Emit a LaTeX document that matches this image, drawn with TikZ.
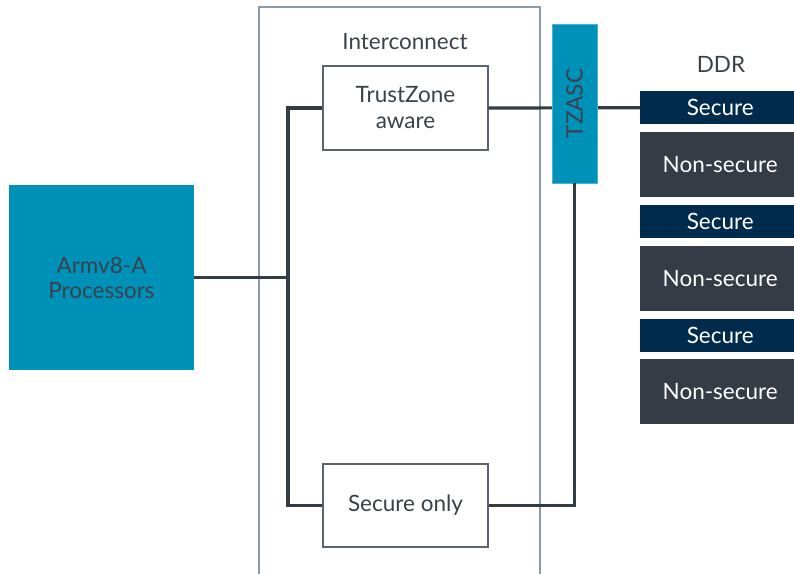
\documentclass[tikz,border=0pt]{standalone}
\usepackage{fontspec}
\setmainfont{Lato}
\definecolor{armblue}{HTML}{0091B9}
\definecolor{txtdark}{HTML}{3A414A}
\definecolor{linedark}{HTML}{333C45}
\definecolor{navy}{HTML}{002B4C}
\definecolor{nsgray}{HTML}{353C45}
\definecolor{bordergray}{HTML}{8A9AAA}
\begin{document}
\begin{tikzpicture}[x=1pt,y=-1pt,
  every node/.style={font=\fontsize{22.5}{26}\selectfont, text=txtdark, inner sep=0pt},
  wire/.style={draw=linedark, line width=3.2pt},
  ibox/.style={draw=linedark!80, line width=1.2pt, fill=white, minimum width=165pt, minimum height=84pt, align=center},
  sec/.style={fill=navy, text=white, minimum width=160pt, minimum height=33pt, anchor=north west},
  nsec/.style={fill=nsgray, text=white, minimum width=160pt, minimum height=65pt, anchor=north west}]
\useasboundingbox (0,0) rectangle (794,573);
% interconnect frame
\draw[draw=bordergray, line width=1.3pt] (259,580) -- (259,7) -- (540,7) -- (540,580);
\node (ic) at (405,42) {Interconnect};
% processors
\node[fill=armblue, minimum width=185pt, minimum height=185pt, align=center] (cpu) at (101.5,277.5) {Armv8-A\\[-1pt]Processors};
% interconnect boxes
\node[ibox, minimum height=84pt] (tz) at (405.5,108) {TrustZone\\[0pt]aware};
\node[ibox, minimum height=83pt] (so) at (405.5,505.5) {Secure only};
% DDR
\node (ddr) at (721,64) {DDR};
\node[sec] (s1) at (640,91) {Secure};
\node[nsec] (n1) at (640,132) {Non-secure};
\node[sec] (s2) at (640,205) {Secure};
\node[nsec] (n2) at (640,246) {Non-secure};
\node[sec] (s3) at (640,319) {Secure};
\node[nsec] (n3) at (640,359) {Non-secure};
% wires
\coordinate (bus) at (288,277.5);
\draw[wire] (cpu.east) -- (bus);
\draw[wire] (tz.west) -| (bus) |- (so.west);
\draw[wire] (tz.east) -- (s1.west);
% TZASC
\node[fill=armblue, draw=armblue!70, minimum width=159pt, minimum height=45pt, rotate=90] (tza) at (574.5,103.5) {TZASC};
\draw[wire] (so.east) -| (tza.west);
\end{tikzpicture}
\end{document}
